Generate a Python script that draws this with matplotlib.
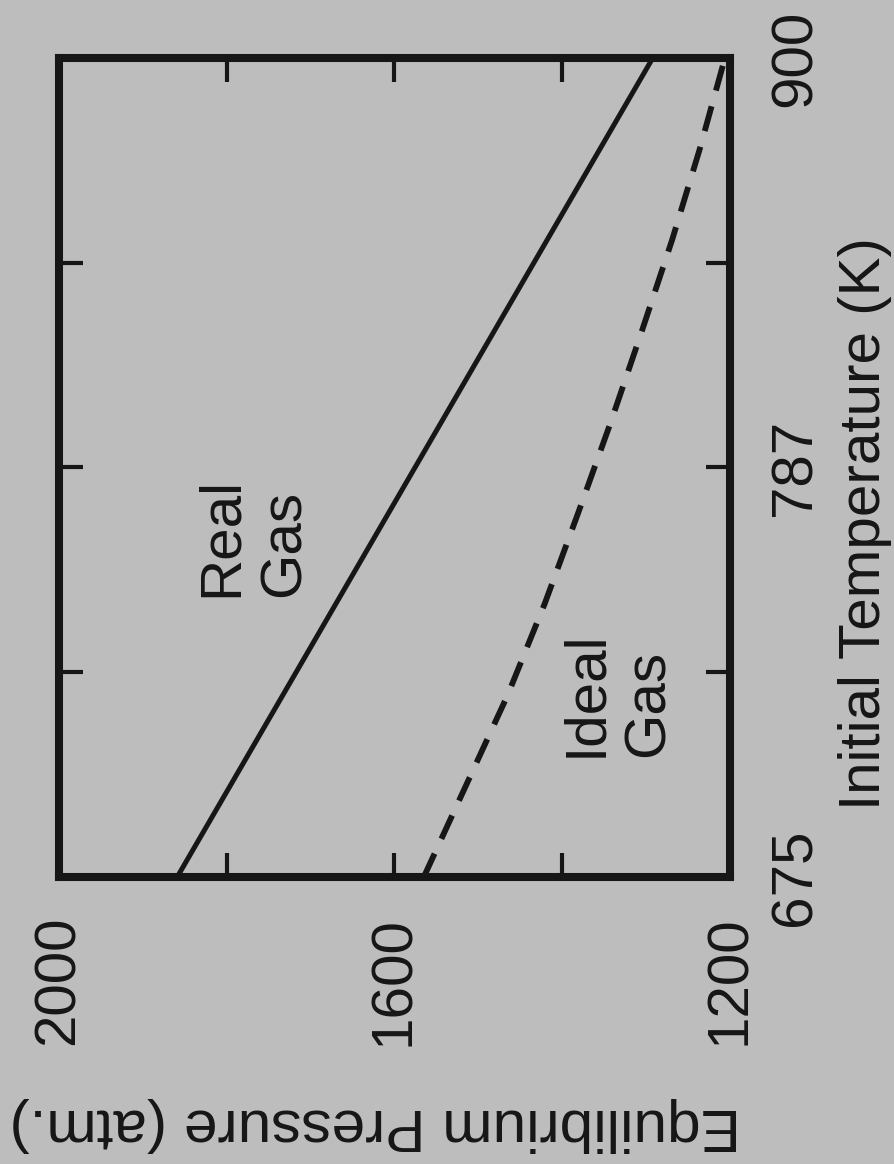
import matplotlib
matplotlib.use('Agg')
import matplotlib.pyplot as plt

# Datos (grafica girada 90 grados)
temperaturas = [675, 700, 725, 750, 775, 800, 825, 850, 875, 900]
presion_real = [1859, 1796, 1733, 1670, 1607, 1544, 1481, 1418, 1355, 1292]
presion_ideal = [1565, 1515, 1465, 1421, 1381, 1342, 1305, 1269, 1236, 1206]

ticks_presion = [2000, 1800, 1600, 1400, 1200]
etiquetas_presion = ['2000', '', '1600', '', '1200']
ticks_temp = [675, 731.25, 787.5, 843.75, 900]
etiquetas_temp = ['675', '', '787', '', '900']

fondo = '#bdbdbd'
tinta = '#161616'


def dibujar():
    plt.rcParams['font.family'] = ['Liberation Sans', 'DejaVu Sans']
    plt.rcParams['font.size'] = 42

    fig = plt.figure(figsize=(8.95, 11.64), dpi=100, facecolor=fondo)
    ax = fig.add_axes([0.0659, 0.2466, 0.7497, 0.7036], facecolor=fondo)

    ax.plot(presion_real, temperaturas, color=tinta, lw=3.6, solid_capstyle='butt')
    ax.plot(presion_ideal, temperaturas, color=tinta, lw=4.2,
            linestyle=(0, (4.4, 2.8)))

    ax.set_xlim(2000, 1200)
    ax.set_ylim(675, 900)

    for s in ax.spines.values():
        s.set_linewidth(5.8)
        s.set_color(tinta)

    ax.set_xticks(ticks_presion)
    ax.set_xticklabels(etiquetas_presion, rotation=90, color=tinta)
    ax.set_yticks(ticks_temp)
    ax.set_yticklabels(etiquetas_temp, rotation=90, va='center', color=tinta)

    ax.tick_params(direction='in', length=17, width=3, color=tinta,
                   top=True, bottom=True, left=True, right=True,
                   labelleft=False, labelright=True, pad=28)

    # Etiquetas dentro de la grafica
    ax.text(1838, 752, 'Real\nGas', rotation=90, ha='left', va='bottom',
            multialignment='left', color=tinta)
    ax.text(1404, 708, 'Ideal\nGas', rotation=90, ha='left', va='bottom',
            multialignment='left', color=tinta)

    ax.set_xlabel('Equilibrium Pressure (atm.)', rotation=180, fontsize=43.5,
                  ha='center', va='center', color=tinta)
    ax.xaxis.set_label_coords(0.471, -0.302)
    ax.yaxis.set_label_position('right')
    ax.set_ylabel('Initial Temperature (K)', rotation=90,
                  ha='center', va='center', color=tinta)
    ax.yaxis.set_label_coords(1.201, 0.431)

    fig.savefig('out.png', dpi=100, facecolor=fondo)


if __name__ == "__main__":
    dibujar()
